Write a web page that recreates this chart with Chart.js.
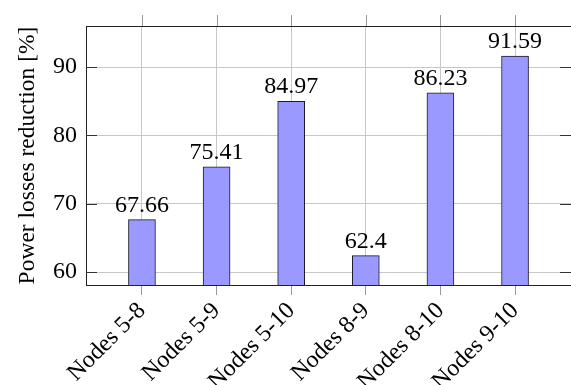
<!DOCTYPE html>
<html>
<head>
<meta charset="utf-8">
<script src="https://cdn.jsdelivr.net/npm/chart.js@4.4.1/dist/chart.umd.min.js"></script>
<style>
  html, body { margin: 0; padding: 0; background: #fff; }
  #wrap { width: 571px; height: 385px; }
</style>
</head>
<body>
<div id="wrap"><canvas id="chart"></canvas></div>
<script>
const categories = ['Nodes 5-8', 'Nodes 5-9', 'Nodes 5-10', 'Nodes 8-9', 'Nodes 8-10', 'Nodes 9-10'];
const reduction = [67.66, 75.41, 84.97, 62.4, 86.23, 91.59];
const yTicks = [60, 70, 80, 90];

const serif = '"Liberation Serif", serif';

// pgfplots style frame: top line, inner y ticks, x ticks poking out on top
const framePlugin = {
  id: 'frame',
  afterDraw(c) {
    const ctx = c.ctx;
    const a = c.chartArea;
    const x = c.scales.x, y = c.scales.y;
    ctx.save();
    ctx.lineWidth = 1;
    ctx.strokeStyle = '#999';
    categories.forEach((cat, i) => {
      const px = Math.round(x.getPixelForValue(i)) + 0.5;
      ctx.beginPath();
      ctx.moveTo(px, a.top - 11);
      ctx.lineTo(px, a.top);
      ctx.stroke();
    });
    ctx.strokeStyle = '#333';
    yTicks.forEach(v => {
      const py = Math.round(y.getPixelForValue(v)) + 0.5;
      ctx.beginPath();
      ctx.moveTo(a.left, py);
      ctx.lineTo(a.left + 11, py);
      ctx.moveTo(a.right - 11, py);
      ctx.lineTo(a.right, py);
      ctx.stroke();
    });
    ctx.strokeStyle = '#222';
    ctx.beginPath();
    ctx.moveTo(a.left, Math.round(a.top) + 0.5);
    ctx.lineTo(a.right, Math.round(a.top) + 0.5);
    ctx.stroke();
    ctx.restore();
  }
};

// numbers over the bars
const valuePlugin = {
  id: 'values',
  afterDatasetsDraw(c) {
    const ctx = c.ctx;
    const meta = c.getDatasetMeta(0);
    ctx.save();
    ctx.font = '24px ' + serif;
    ctx.fillStyle = '#000';
    ctx.textAlign = 'center';
    ctx.textBaseline = 'alphabetic';
    meta.data.forEach((bar, i) => {
      ctx.fillText(String(reduction[i]), bar.x, bar.y - 8);
    });
    ctx.restore();
  }
};

new Chart(document.getElementById('chart'), {
  type: 'bar',
  data: {
    datasets: [{
      data: categories.map((cat, i) => ({ x: i, y: reduction[i] })),
      backgroundColor: '#9999ff',
      borderColor: '#1a1a2a',
      borderWidth: 1,
      barThickness: 27
    }]
  },
  options: {
    responsive: true,
    maintainAspectRatio: false,
    animation: false,
    layout: { padding: { top: 26, right: 0, left: 0, bottom: 0 } },
    plugins: {
      legend: { display: false },
      tooltip: { enabled: false }
    },
    scales: {
      x: {
        type: 'linear',
        offset: false,
        min: -0.75,
        max: 5.75,
        afterBuildTicks: s => { s.ticks = categories.map((c, i) => ({ value: i })); },
        afterFit: s => { s.height = 100; s.paddingLeft = 0; s.paddingRight = 0; },
        grid: { offset: false, color: '#c8c8c8', tickLength: 10, tickColor: '#999' },
        border: { color: '#222' },
        ticks: {
          autoSkip: false,
          minRotation: 45,
          maxRotation: 45,
          padding: 2,
          color: '#000',
          font: { family: serif, size: 24 },
          callback: v => categories[v]
        }
      },
      y: {
        min: 58.1,
        max: 96,
        afterBuildTicks: s => { s.ticks = yTicks.map(v => ({ value: v })); },
        afterFit: s => { s.width = 86; s.paddingTop = 0; s.paddingBottom = 0; },
        grid: { color: '#c8c8c8', drawTicks: false },
        border: { color: '#222' },
        ticks: {
          padding: 9,
          color: '#000',
          font: { family: serif, size: 24 }
        },
        title: {
          display: true,
          text: 'Power losses reduction [%]',
          color: '#000',
          font: { family: serif, size: 23.5 },
          padding: { top: 14, bottom: 0 }
        }
      }
    }
  },
  plugins: [framePlugin, valuePlugin]
});
</script>
</body>
</html>
